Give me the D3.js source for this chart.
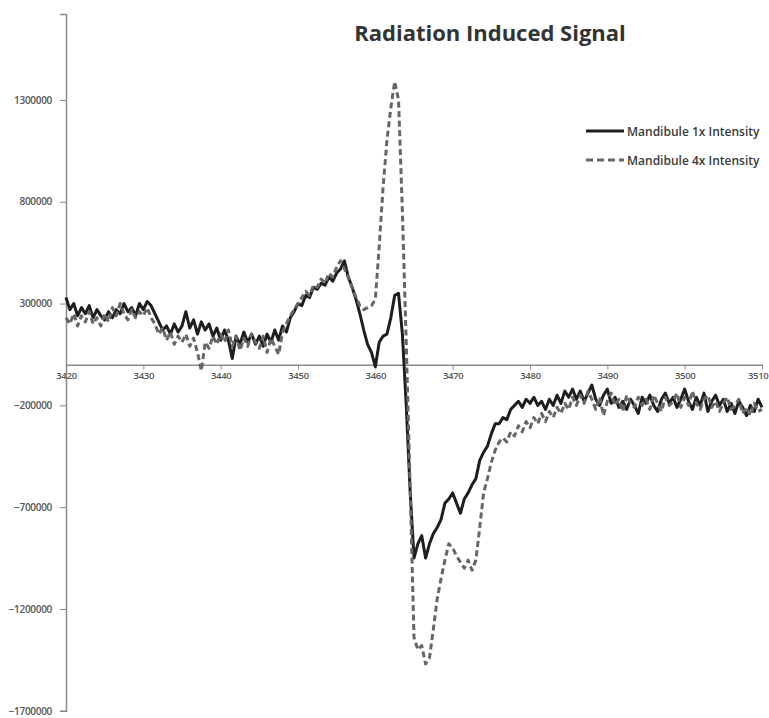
<!DOCTYPE html>
<html><head><meta charset="utf-8">
<script src="https://cdn.jsdelivr.net/npm/d3@7"></script>
<style>html,body{margin:0;padding:0;background:#fff;overflow:hidden}</style>
</head><body>
<svg id="c" width="769" height="718"></svg>
<script>
const title = "Radiation Induced Signal";
const seriesNames = ["Mandibule 1x Intensity", "Mandibule 4x Intensity"];
const xStart = 3420, xStep = 0.5;
const xTicks = [3420,3430,3440,3450,3460,3470,3480,3490,3500,3510];
const yTicks = [1300000,800000,300000,-200000,-700000,-1200000,-1700000];
// values in thousands
const intensity1x = [
 330, 270, 300, 240, 280, 250, 290, 230, 270, 240,
 220, 260, 230, 270, 250, 300, 260, 280, 240, 300,
 270, 310, 290, 250, 210, 170, 190, 150, 200, 160,
 190, 260, 180, 220, 150, 210, 170, 200, 140, 180,
 120, 170, 120, 30, 140, 100, 160, 110, 150, 100,
 140, 90, 150, 110, 170, 120, 190, 160, 230, 260,
 300, 290, 340, 330, 380, 370, 400, 390, 430, 410,
 450, 470, 510, 430, 380, 320, 250, 170, 100, 60,
 -10, 110, 140, 150, 230, 340, 350, 150, -200, -620,
 -950, -880, -840, -950, -880, -830, -800, -760, -680, -660,
 -630, -680, -730, -660, -630, -590, -560, -470, -430, -400,
 -340, -290, -290, -260, -270, -220, -200, -180, -210, -170,
 -190, -160, -200, -180, -220, -170, -200, -150, -190, -130,
 -160, -120, -170, -130, -180, -140, -100, -170, -200, -150,
 -120, -190, -160, -210, -180, -220, -170, -200, -240, -160,
 -190, -150, -200, -230, -170, -140, -190, -160, -210, -170,
 -120, -180, -220, -160, -200, -140, -230, -180, -150, -200,
 -170, -230, -190, -240, -180, -210, -250, -200, -230, -170,
 -210
];
const intensity4x = [
 230, 200, 250, 190, 240, 210, 260, 200, 230, 190,
 250, 210, 280, 240, 300, 250, 220, 270, 230, 260,
 240, 280, 230, 200, 150, 180, 120, 160, 100, 140,
 110, 150, 90, 130, 60, -30, 110, 80, 140, 100,
 150, 110, 170, 90, 140, 70, 130, 90, 150, 110,
 80, 140, 60, 130, 90, 50, 160, 200, 240, 270,
 300, 330, 360, 340, 390, 380, 420, 400, 450, 430,
 480, 510, 470, 430, 380, 330, 290, 270, 280, 290,
 320, 580, 870, 1100, 1260, 1390, 1300, 750, 100, -600,
 -1340, -1400, -1380, -1470, -1440, -1300, -1150, -1050, -960, -880,
 -900, -940, -970, -1000, -960, -1010, -960, -800, -630, -560,
 -480, -420, -380, -360, -380, -330, -350, -300, -330, -280,
 -310, -260, -290, -240, -280, -230, -260, -210, -240, -190,
 -220, -160, -200, -150, -190, -130, -170, -220, -160, -250,
 -180, -140, -200, -170, -230, -150, -190, -210, -160, -200,
 -170, -220, -150, -190, -230, -160, -200, -180, -140, -210,
 -160, -200, -130, -190, -220, -170, -150, -210, -180, -230,
 -190, -160, -220, -200, -170, -240, -210, -250, -190, -230,
 -220
];

const svg = d3.select("#c");
const x = d3.scaleLinear().domain([3420, 3510]).range([66, 762]);
const y = d3.scaleLinear().domain([-1700000, 1722000]).range([710.8, 14]);
const axisColor = "#8a8a8a";
const labelColor = "#555";
const tickFont = "'Open Sans', sans-serif";

// Y axis
const yAxis = d3.axisLeft(y).tickValues(yTicks).tickSize(6).tickFormat(d3.format("d"));
const gy = svg.append("g").attr("transform", "translate(66,0)").call(yAxis);
gy.select(".domain").attr("stroke", axisColor).attr("stroke-width", 1.5);
gy.selectAll(".tick line").attr("stroke", axisColor);
gy.selectAll(".tick text").attr("fill", labelColor).attr("font-size", 10)
  .attr("font-weight", 600).attr("letter-spacing", -0.3)
  .attr("font-family", tickFont).attr("x", -14);

// X axis at y=0
const xAxis = d3.axisBottom(x).tickValues(xTicks).tickSize(5).tickSizeOuter(0).tickFormat(d3.format("d"));
const gx = svg.append("g").attr("transform", `translate(0,${y(0)})`).call(xAxis);
gx.select(".domain").attr("stroke", axisColor).attr("stroke-width", 1.5);
gx.selectAll(".tick line").attr("stroke", axisColor);
gx.selectAll(".tick text").attr("fill", labelColor).attr("font-size", 9.5)
  .attr("font-weight", 600).attr("letter-spacing", -0.3)
  .attr("font-family", tickFont).attr("y", 8);
gx.selectAll(".tick text").filter(d => d === 3510).attr("text-anchor", "end").attr("x", 6);

const line = d3.line()
  .x((d, i) => x(xStart + i * xStep))
  .y(d => y(d * 1000));

svg.append("path").datum(intensity1x).attr("d", line)
  .attr("fill", "none").attr("stroke", "#1e1e1e").attr("stroke-width", 3)
  .attr("stroke-linejoin", "round");
svg.append("path").datum(intensity4x).attr("d", line)
  .attr("fill", "none").attr("stroke", "#666").attr("stroke-width", 3)
  .attr("stroke-dasharray", "6,3.5").attr("stroke-linejoin", "round");

// Title
svg.append("text").attr("x", 490).attr("y", 41).attr("text-anchor", "middle")
  .attr("font-family", "'Open Sans', sans-serif").attr("font-weight", "bold")
  .attr("font-size", 22).attr("fill", "#333").text(title);

// Legend
const leg = svg.append("g");
const legY = [131, 160];
seriesNames.forEach((name, i) => {
  leg.append("line").attr("x1", 586).attr("x2", 624).attr("y1", legY[i]).attr("y2", legY[i])
    .attr("stroke", i === 0 ? "#1e1e1e" : "#666").attr("stroke-width", 3)
    .attr("stroke-dasharray", i === 0 ? null : "7,4");
  leg.append("text").attr("x", 627).attr("y", legY[i] + 4.5)
    .attr("font-family", "'Open Sans', sans-serif").attr("font-size", 12)
    .attr("font-weight", 600).attr("fill", "#3a3a3a").text(name);
});
</script>
</body></html>
